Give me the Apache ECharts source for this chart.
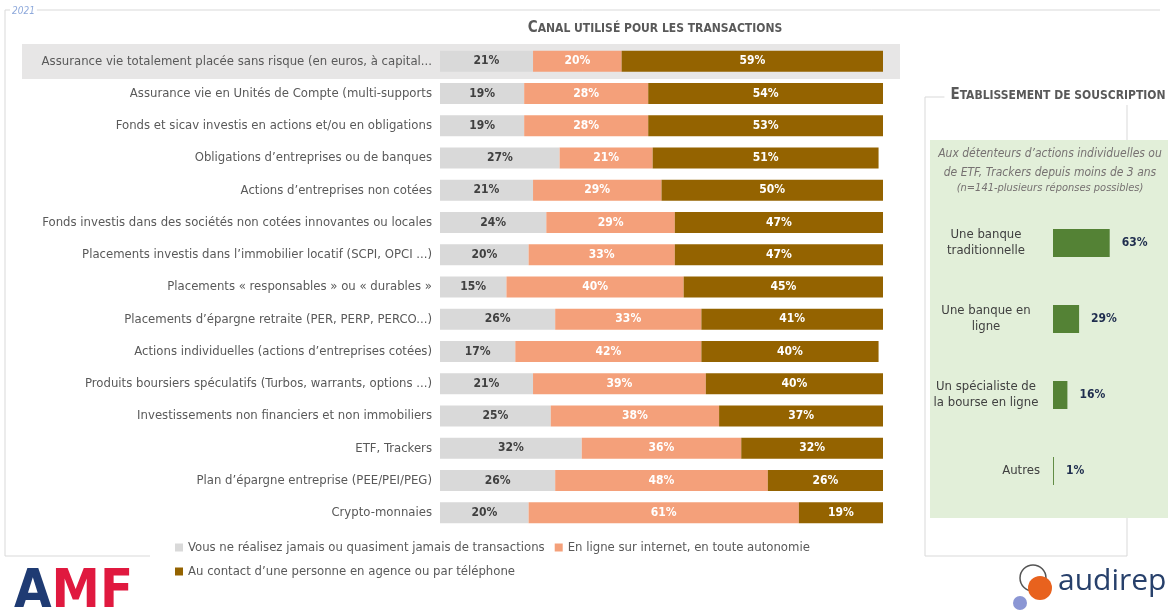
<!DOCTYPE html>
<html>
<head>
<meta charset="utf-8">
<script src="https://cdn.jsdelivr.net/npm/echarts@6/dist/echarts.min.js"></script>
<style>html,body{margin:0;padding:0;background:#fff}#c{width:1174px;height:611px}</style>
</head>
<body>
<div id="c"></div>
<script>
const categories = [
  "Assurance vie totalement placée sans risque (en euros, à capital...",
  "Assurance vie en Unités de Compte (multi-supports",
  "Fonds et sicav investis en actions et/ou en obligations",
  "Obligations d’entreprises ou de banques",
  "Actions d’entreprises non cotées",
  "Fonds investis dans des sociétés non cotées innovantes ou locales",
  "Placements investis dans l’immobilier locatif (SCPI, OPCI ...)",
  "Placements « responsables » ou « durables »",
  "Placements d’épargne retraite (PER, PERP, PERCO...)",
  "Actions individuelles (actions d’entreprises cotées)",
  "Produits boursiers spéculatifs (Turbos, warrants, options ...)",
  "Investissements non financiers et non immobiliers",
  "ETF, Trackers",
  "Plan d’épargne entreprise (PEE/PEI/PEG)",
  "Crypto-monnaies"
];
const neverVals   = [21,19,19,27,21,24,20,15,26,17,21,25,32,26,20];
const onlineVals  = [20,28,28,21,29,29,33,40,33,42,39,38,36,48,61];
const contactVals = [59,54,53,51,50,47,47,45,41,40,40,37,32,26,19];
const seriesNames = [
  "Vous ne réalisez jamais ou quasiment jamais de transactions",
  "En ligne sur internet, en toute autonomie",
  "Au contact d’une personne en agence ou par téléphone"
];
const estabCats = ["Une banque\ntraditionnelle", "Une banque en\nligne", "Un spécialiste de\nla bourse en ligne", "Autres"];
const estabVals = [63, 29, 16, 1];

const FONT = "'Liberation Sans Narrow', 'DejaVu Sans Condensed', 'Open Sans', sans-serif";
const chart = echarts.init(document.getElementById('c'));

function barSeries(name, data, color, labelColor) {
  return {
    name: name, type: 'bar', stack: 'total', data: data, barWidth: 21,
    xAxisIndex: 0, yAxisIndex: 0,
    itemStyle: {color: color},
    label: {show: true, position: 'inside', formatter: '{c}%', color: labelColor,
            fontFamily: FONT, fontSize: 12, fontWeight: 'bold'}
  };
}

chart.setOption({
  animation: false,
  backgroundColor: '#fff',
  textStyle: {fontFamily: FONT},
  graphic: [
    {type: 'line', shape: {x1: 5, y1: 10, x2: 1160, y2: 10}, style: {stroke: '#D9D9D9', lineWidth: 1}, z: 0},
    {type: 'line', shape: {x1: 5, y1: 10, x2: 5, y2: 556}, style: {stroke: '#D9D9D9', lineWidth: 1}, z: 0},
    {type: 'line', shape: {x1: 5, y1: 556, x2: 150, y2: 556}, style: {stroke: '#D9D9D9', lineWidth: 1}, z: 0},
    {type: 'text', style: {x: 10, y: 6, text: '2021', fill: '#8EA9DB', font: 'italic 10px ' + FONT, backgroundColor: '#fff', padding: [0, 2]}, z: 1},
    {type: 'rect', shape: {x: 22, y: 44, width: 878, height: 35}, style: {fill: '#E7E6E6'}, z: -10},
    {type: 'rect', shape: {x: 925, y: 97, width: 202, height: 459}, style: {fill: 'none', stroke: '#D9D9D9', lineWidth: 1}, z: -12},
    {type: 'rect', shape: {x: 930, y: 140, width: 238, height: 378}, style: {fill: '#E2EFD9'}, z: -11},
    {type: 'text', style: {x: 1050, y: 144,
      text: "Aux détenteurs d’actions individuelles ou\nde ETF, Trackers depuis moins de 3 ans",
      fill: '#767171', font: 'italic 12px ' + FONT, align: 'center', lineHeight: 19}},
    {type: 'text', style: {x: 1050, y: 183,
      text: "(n=141-plusieurs réponses possibles)",
      fill: '#767171', font: 'italic 11px ' + FONT, align: 'center'}},
    {type: 'text', style: {x: 14, y: 566,
      text: '{b|A}{r|M}{r|F}', rich: {
        b: {fill: '#1F3B73', font: 'bold 54px ' + FONT},
        r: {fill: '#E0193F', font: 'bold 54px ' + FONT}}}},
    {type: 'circle', shape: {cx: 1033, cy: 578, r: 13}, style: {fill: 'none', stroke: '#555', lineWidth: 1.5}},
    {type: 'circle', shape: {cx: 1040, cy: 588, r: 12}, style: {fill: '#E8621E'}},
    {type: 'circle', shape: {cx: 1020, cy: 603, r: 7}, style: {fill: '#8B96D4'}},
    {type: 'text', style: {x: 1058, y: 566, text: 'audirep', fill: '#27406B', font: '30px ' + "'Open Sans', sans-serif"}}
  ],
  title: [
    {text: '{a|C}{b|ANAL UTILISÉ POUR LES TRANSACTIONS}', left: 650, top: 16, textAlign: 'center',
     textStyle: {rich: {a: {fontSize: 15, fontWeight: 'bold', color: '#595959', fontFamily: FONT},
                        b: {fontSize: 12, fontWeight: 'bold', color: '#595959', fontFamily: FONT}}}},
    {text: '{a|E}{b|TABLISSEMENT DE SOUSCRIPTION}', left: 1052, top: 86, textAlign: 'center',
     backgroundColor: '#fff', padding: [2, 6],
     textStyle: {rich: {a: {fontSize: 15, fontWeight: 'bold', color: '#595959', fontFamily: FONT},
                        b: {fontSize: 12, fontWeight: 'bold', color: '#595959', fontFamily: FONT}}}}
  ],
  legend: [
    {data: [seriesNames[0], seriesNames[1]], left: 170, top: 536, itemWidth: 8, itemHeight: 8, itemGap: 10,
     icon: 'rect', textStyle: {color: '#595959', fontSize: 13, fontFamily: FONT}, selectedMode: false},
    {data: [seriesNames[2]], left: 170, top: 560, itemWidth: 8, itemHeight: 8,
     icon: 'rect', textStyle: {color: '#595959', fontSize: 13, fontFamily: FONT}, selectedMode: false}
  ],
  grid: [
    {left: 440, right: 291, top: 45, bottom: 82, containLabel: false},
    {left: 1053, right: 31, top: 205, bottom: 102, containLabel: false}
  ],
  xAxis: [
    {type: 'value', gridIndex: 0, min: 0, max: 100, show: false},
    {type: 'value', gridIndex: 1, min: 0, max: 100, show: false}
  ],
  yAxis: [
    {type: 'category', gridIndex: 0, data: categories, inverse: true,
     axisLine: {show: false}, axisTick: {show: false},
     axisLabel: {color: '#595959', fontSize: 13, fontFamily: FONT, margin: 8}},
    {type: 'category', gridIndex: 1, data: estabCats, inverse: true,
     axisLine: {show: false}, axisTick: {show: false},
     axisLabel: {color: '#404040', fontSize: 13, fontFamily: FONT, margin: 13, align: 'right',
       formatter: function (v) {
         if (v.indexOf('\n') < 0) return '{s|' + v + '}';
         return v.split('\n').map(function (l) { return '{w|' + l + '}'; }).join('\n');
       },
       rich: {
         w: {width: 108, align: 'center', fontSize: 13, lineHeight: 16, color: '#404040', fontFamily: FONT},
         s: {fontSize: 13, color: '#404040', fontFamily: FONT}
       }}}
  ],
  series: [
    barSeries(seriesNames[0], neverVals, '#D9D9D9', '#404040'),
    barSeries(seriesNames[1], onlineVals, '#F4A07A', '#FFFFFF'),
    barSeries(seriesNames[2], contactVals, '#946300', '#FFFFFF'),
    {name: 'Etablissement', type: 'bar', xAxisIndex: 1, yAxisIndex: 1, data: estabVals, barWidth: 28,
     itemStyle: {color: '#548235'},
     label: {show: true, position: 'right', distance: 12, formatter: '{c}%', color: '#1F2D4E',
             fontFamily: FONT, fontSize: 12, fontWeight: 'bold'}}
  ]
});
</script>
</body>
</html>
